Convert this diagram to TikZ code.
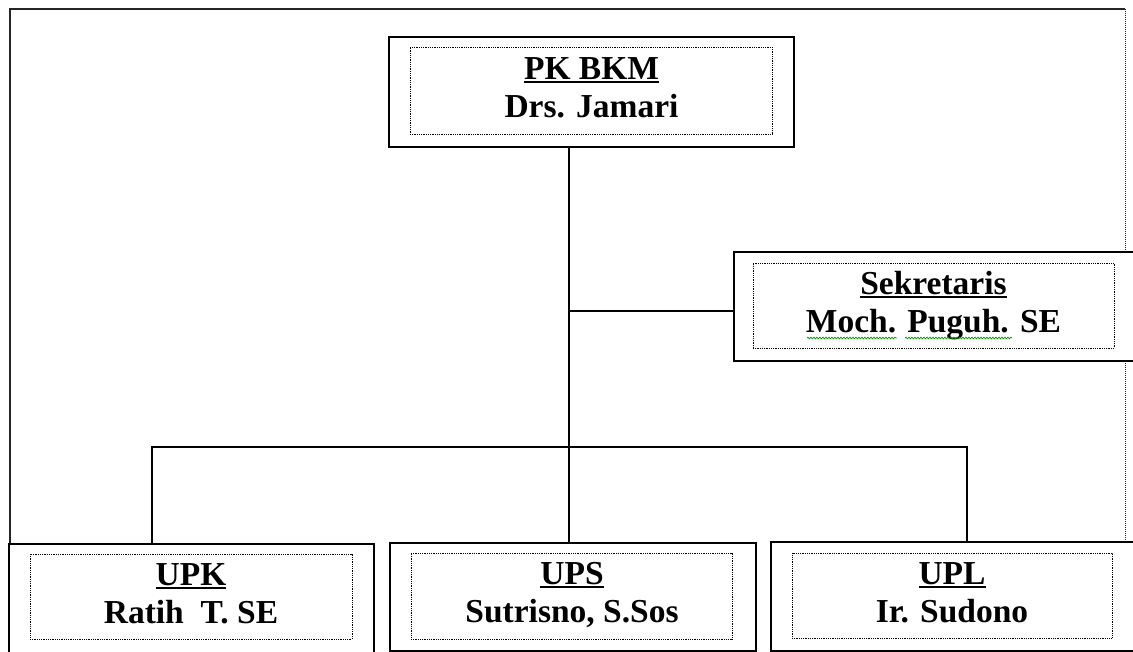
\documentclass[tikz,border=0pt]{standalone}
\usepackage{fontspec}
\setmainfont{Liberation Serif}
\usetikzlibrary{decorations.pathmorphing}
\newcommand\ulx[1]{\setbox0\hbox{#1}\rlap{\rule[-4pt]{\wd0}{2.2pt}}\box0}
\begin{document}
\begin{tikzpicture}[x=1pt,y=-1pt,
  outerbox/.style={draw=black,line width=1.4pt,rectangle,inner sep=0pt},
  innerbox/.style={draw=black,line width=0.8pt,dash pattern=on 0.9pt off 0.9pt,rectangle,inner sep=0pt},
  label/.style={font=\fontsize{33.5pt}{38pt}\selectfont\bfseries,align=center,inner sep=0pt,anchor=north},
  conn/.style={draw=black,line width=1.4pt},
  frame/.style={draw=black!85,line width=1.4pt},
  wavy/.style={draw=green!60!black,line width=0.7pt,decorate,decoration={snake,amplitude=0.9pt,segment length=3pt}}]
\useasboundingbox (0,0) rectangle (1133,652);
\clip (0,0) rectangle (1133,652);
% frame
\draw[frame] (10,544) -- (10,9) -- (1125,9);
\draw[frame,line width=1pt,dash pattern=on 1pt off 1pt] (1125,9) -- (1125,541);
% boxes
\node[outerbox,fill=white,minimum width=405pt,minimum height=110pt] (pk) at (591.5,92) {};
\node[innerbox,minimum width=362pt,minimum height=87pt] (pkin) at (591,90.5) {};
\node[label] (pkt) at (591.5,57) {\ulx{PK BKM}\\Drs. Jamari};

\node[outerbox,fill=white,minimum width=430pt,minimum height=109pt] (sek) at (949,306.5) {};
\node[innerbox,minimum width=361pt,minimum height=85pt] (sekin) at (933.5,305.5) {};
\node[label] (sekt) at (933.5,271) {\ulx{Sekretaris}\\Moch. Puguh. SE};
\draw[wavy] (807,338) -- (897,338);
\draw[wavy] (905,338) -- (1012,338);

\node[outerbox,fill=white,minimum width=365pt,minimum height=118pt] (upk) at (191.5,603) {};
\node[innerbox,minimum width=322pt,minimum height=85pt] (upkin) at (191,596.5) {};
\node[label] (upkt) at (191,563) {\ulx{UPK}\\Ratih\ \ T. SE};

\node[outerbox,fill=white,minimum width=366pt,minimum height=108pt] (ups) at (573,597) {};
\node[innerbox,minimum width=321pt,minimum height=86pt] (upsin) at (571.5,596) {};
\node[label] (upst) at (572,562) {\ulx{UPS}\\Sutrisno, S.Sos};

\node[outerbox,fill=white,minimum width=368pt,minimum height=109pt] (upl) at (955,596.5) {};
\node[innerbox,minimum width=320pt,minimum height=85pt] (uplin) at (952,595.5) {};
\node[label] (uplt) at (952,562) {\ulx{UPL}\\Ir. Sudono};
% connectors
\coordinate (j1) at (569,311);
\coordinate (b1) at (152,447);
\coordinate (b2) at (967,447);
\draw[conn] (pk.south -| j1) -- (ups.north -| j1);
\draw[conn] (j1) -- (j1 -| sek.west);
\draw[conn] (b1 |- upk.north) -- (b1) -- (b2) -- (b2 |- upl.north);
\end{tikzpicture}
\end{document}
